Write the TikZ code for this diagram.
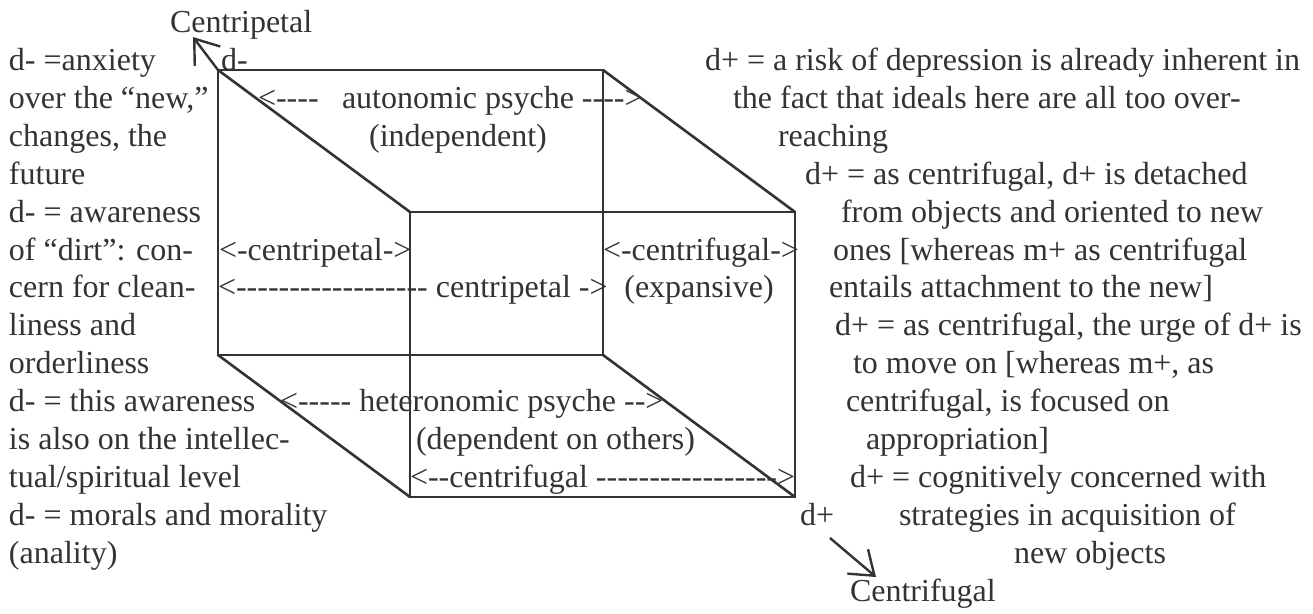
\documentclass[tikz,border=0pt]{standalone}
\usepackage{fontspec}
\setmainfont{Liberation Serif}[Ligatures=TeXOff]
\usetikzlibrary{arrows.meta}
\definecolor{ink}{HTML}{333333}

\begin{document}
\begin{tikzpicture}[x=1pt,y=-1pt,
  txt/.style={anchor=base west, inner sep=0pt, outer sep=0pt, text=ink,
              font=\fontsize{32}{38}\selectfont},
  txtc/.style={txt, anchor=base},
  edge/.style={draw=ink, line width=2.6pt, line join=miter},
  pointer/.style={draw=ink, line width=2.4pt,
                  -{Straight Barb[length=22pt,width=32pt]}},
]
\useasboundingbox (0,0) rectangle (1313,613);

% cube corners: back face (b..) and front face (f..)
\coordinate (bTL) at (218,70);
\coordinate (bTR) at (603,70);
\coordinate (bBR) at (603,355);
\coordinate (bBL) at (218,355);
\coordinate (fTL) at (410,212);
\coordinate (fTR) at (795,212);
\coordinate (fBR) at (795,497);
\coordinate (fBL) at (410,497);

\draw[edge] (bTL) -- (bTR) -- (bBR) -- (bBL) -- cycle;
\draw[edge] (fTL) -- (fTR) -- (fBR) -- (fBL) -- cycle;
\draw[edge] (bTL) -- (fTL);
\draw[edge] (bTR) -- (fTR);
\draw[edge] (bBR) -- (fBR);
\draw[edge] (bBL) -- (fBL);

% direction arrows
\coordinate (cpTip) at (193,37);
\draw[pointer] (bTL) -- (cpTip);
\coordinate (cfStart) at (830,538);
\coordinate (cfTip) at (876,577);
\draw[pointer] (cfStart) -- (cfTip);

\node[txt] (centripetal) at (170,32) {Centripetal};
\node[txt] (centrifugal) at (850,601) {Centrifugal};
\node[txt] (dminus) at (221,70) {d-};
\node[txt] (dplus) at (800,525) {d+};

% labels inside the cube
\node[txt] (autoL) at (258,108) {<----};
\node[txt] (autoR) at (342,108) {autonomic psyche ---->};
\node[txtc] (indep) at (458,146) {(independent)};
\node[txt] (cpShort) at (219,260) {<-centripetal->};
\node[txt] (cfShort) at (603,260) {<-centrifugal->};
\node[txt] (cpLong) at (218,297) {<------------------ centripetal ->};
\node[txtc] (expans) at (699,297) {(expansive)};
\node[txt] (hetero) at (280,411) {<----- heteronomic psyche -->};
\node[txt] (depend) at (416,449) {(dependent on others)};
\node[txt] (cfLong) at (410,487) {<--centrifugal ----------------->};

% left column
\node[txt] (L1) at (9,70) {d- =anxiety};
\node[txt] (L2) at (9,108) {over the “new,”};
\node[txt] (L3) at (9,146) {changes, the};
\node[txt] (L4) at (9,184) {future};
\node[txt] (L5) at (9,222) {d- = awareness};
\node[txt] (L6) at (9,260) {of “dirt”: con-};
\node[txt] (L7) at (9,297) {cern for clean-};
\node[txt] (L8) at (9,335) {liness and};
\node[txt] (L9) at (9,373) {orderliness};
\node[txt] (L10) at (9,411) {d- = this awareness};
\node[txt] (L11) at (9,449) {is also on the intellec-};
\node[txt] (L12) at (9,487) {tual/spiritual level};
\node[txt] (L13) at (9,525) {d- = morals and morality};
\node[txt] (L14) at (9,563) {(anality)};

% right column
\node[txt] (R1) at (705,70) {d+ = a risk of depression is already inherent in};
\node[txt] (R2) at (733,108) {the fact that ideals here are all too over-};
\node[txt] (R3) at (778,146) {reaching};
\node[txt] (R4) at (805,184) {d+ = as centrifugal, d+ is detached};
\node[txt] (R5) at (841,222) {from objects and oriented to new};
\node[txt] (R6) at (833,260) {ones [whereas m+ as centrifugal};
\node[txt] (R7) at (829,297) {entails attachment to the new]};
\node[txt] (R8) at (835,335) {d+ = as centrifugal, the urge of d+ is};
\node[txt] (R9) at (853,373) {to move on [whereas m+, as};
\node[txt] (R10) at (846,411) {centrifugal, is focused on};
\node[txt] (R11) at (866,449) {appropriation]};
\node[txt] (R12) at (850,487) {d+ = cognitively concerned with};
\node[txt] (R13) at (899,525) {strategies in acquisition of};
\node[txt] (R14) at (1014,563) {new objects};
\end{tikzpicture}
\end{document}
